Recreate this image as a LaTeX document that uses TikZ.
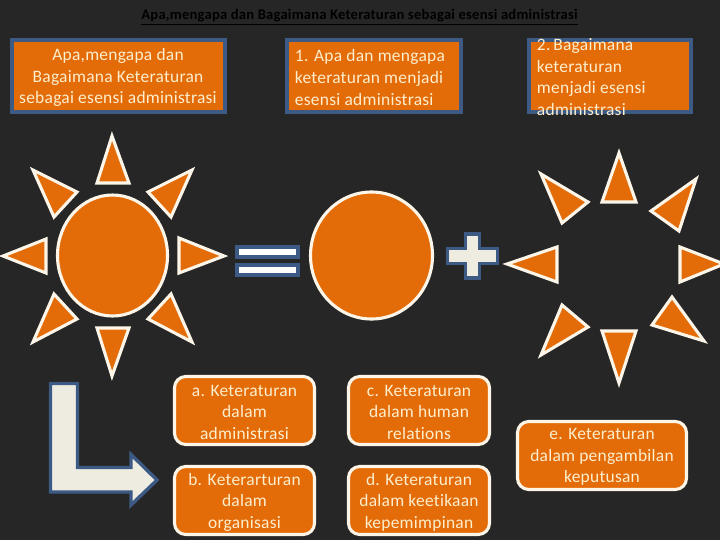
\documentclass[tikz,border=0pt]{standalone}
\usepackage{fontspec}
\setmainfont[LetterSpace=1.5,Ligatures=NoCommon]{Carlito}
\usetikzlibrary{positioning}
\definecolor{BgDark}{RGB}{38,38,38}
\definecolor{SunOrange}{RGB}{227,108,9}
\definecolor{EdgeBlue}{RGB}{60,90,132}
\definecolor{RayEdge}{RGB}{253,245,232}
\definecolor{PaleFill}{RGB}{238,236,225}
\definecolor{BoxText}{RGB}{253,238,205}
\tikzset{
  sunpart/.style={fill=SunOrange,draw=RayEdge,line width=2.2pt,line join=miter},
  sqbox/.style={fill=SunOrange,draw=EdgeBlue,line width=2.3pt},
  rdbox/.style={fill=SunOrange,draw=RayEdge,line width=2.2pt,rounded corners=8pt},
  symbolpart/.style={fill=PaleFill,draw=EdgeBlue,line width=2.4pt},
  boxlabel/.style={text=BoxText,font=\fontsize{12.4}{15.3}\selectfont,align=center},
}
\begin{document}
\begin{tikzpicture}[x=0.025cm,y=-0.025cm]
  \useasboundingbox (0,0) rectangle (720,540);
  \fill[BgDark] (0,0) rectangle (720,540);

  % title
  \node[font=\bfseries\fontsize{10.4}{13}\selectfont,text=black] (title) at (359.5,17)
    {\underline{Apa,mengapa dan Bagaimana Keteraturan sebagai esensi administrasi}};

  % top boxes
  \draw[sqbox] (12,40) rectangle (225,112);
  \draw[sqbox] (287,40) rectangle (461,112);
  \draw[sqbox] (529,40) rectangle (691,112);
  \node[boxlabel] (topA) at (118,77.5) {Apa,mengapa dan\\Bagaimana Keteraturan\\sebagai esensi administrasi};
  \node[boxlabel,align=left,anchor=west] (topB) at (290,77.5) {1. Apa dan mengapa\\keteraturan menjadi\\esensi administrasi};
  \node[boxlabel,align=left,anchor=west] (topC) at (532,77) {2.\,Bagaimana\\keteraturan\\menjadi esensi\\administrasi};

  % rays of the left sun
  \foreach \ax/\ay/\bx/\by/\cx/\cy in {
    112/136/97/183/129/183, 33/170/77/192/54/217, 192/170/148/192/171/217,
    3/256/46/239/46/273, 224/256/179/238/179/273,
    33/342/54/294/77/319, 192/342/171/294/148/319, 112/376/97/328/129/328}{
    \draw[sunpart] (\ax,\ay) -- (\bx,\by) -- (\cx,\cy) -- cycle;
  }
  % rays of the right sun (no body)
  \foreach \ax/\ay/\bx/\by/\cx/\cy in {
    619/153/602/202/636/202, 541/174/588/202/562/223, 696/179/651/211/679/231,
    507/264/557/247/557/282, 724/264/680/247/680/282,
    541/355/562/305/588/327, 704/341/672/297/652/325, 619/383/602/331/636/331}{
    \draw[sunpart] (\ax,\ay) -- (\bx,\by) -- (\cx,\cy) -- cycle;
  }
  % sun bodies
  \draw[sunpart] (112.5,255.5) ellipse (55 and 60.5);
  \draw[sunpart] (371.5,255.5) ellipse (61 and 63.5);

  % equals and plus
  \draw[symbolpart,fill=white] (237,247) rectangle (298,257);
  \draw[symbolpart,fill=white] (237,265) rectangle (298,275);
  \draw[symbolpart] (465.5,234) -- (479.5,234) -- (479.5,248.5) -- (497.5,248.5) -- (497.5,263.5)
    -- (479.5,263.5) -- (479.5,278) -- (465.5,278) -- (465.5,263.5) -- (447.5,263.5)
    -- (447.5,248.5) -- (465.5,248.5) -- cycle;

  % bent arrow
  \draw[symbolpart] (50.5,383.5) -- (77.5,383.5) -- (77.5,467.5) -- (131,467.5) -- (131,454.5)
    -- (157,480) -- (131,505) -- (131,492) -- (50.5,492) -- cycle;

  % rounded boxes
  \foreach \name/\xa/\ya/\xb/\yb/\txt in {
    boxa/174.5/376.5/314.5/444.5/{a. Keteraturan\\dalam\\administrasi},
    boxb/174.5/466.5/314.5/534.5/{b. Keterarturan\\dalam\\organisasi},
    boxc/348.5/376.5/489.5/444.5/{c. Keteraturan\\dalam human\\relations},
    boxd/348.5/466.5/489.5/534.5/{d. Keteraturan\\dalam keetikaan\\kepemimpinan},
    boxe/517.5/421.5/686.5/489.5/{e. Keteraturan\\dalam pengambilan\\keputusan}}{
    \draw[rdbox] (\xa,\ya) rectangle (\xb,\yb);
    \node[boxlabel] (\name) at ({(\xa+\xb)/2},{(\ya+\yb)/2+1.5}) {\txt};
  }
\end{tikzpicture}
\end{document}
